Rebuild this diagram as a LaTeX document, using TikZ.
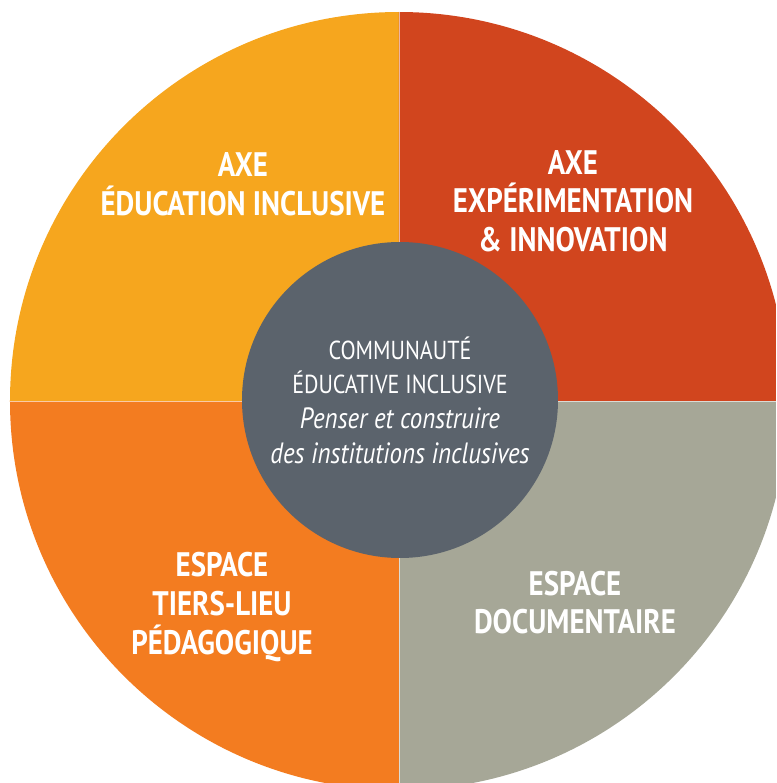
\documentclass[tikz,border=0pt]{standalone}
\usepackage{fontspec}
\setmainfont[FakeStretch=0.85]{PT Sans}
\usetikzlibrary{positioning}
\definecolor{axeEdu}{RGB}{246,166,30}
\definecolor{axeExp}{RGB}{209,69,30}
\definecolor{espTiers}{RGB}{243,124,32}
\definecolor{espDoc}{RGB}{166,167,151}
\definecolor{hubGrey}{RGB}{91,99,108}
\tikzset{
  title/.style={text=white, align=center, font=\fontsize{25.5}{29}\selectfont\bfseries},
  hub/.style={circle, fill=hubGrey, minimum size=316*0.75pt, inner sep=0pt},
  hubtext/.style={text=white, align=center, font=\fontsize{19.5}{26}\selectfont}
}
\newcommand{\hubital}[1]{{\fontsize{22}{26}\selectfont\itshape #1}}
\begin{document}
\begin{tikzpicture}[x=0.75pt,y=0.75pt]
   \useasboundingbox (-399,-382) rectangle (377,401);
   \clip (-399,-382) rectangle (377,401);
   \def\R{389}
   % the four quadrants
   \fill[axeEdu]   (0,0) -- (180:\R) arc (180:90:\R) -- cycle;
   \fill[axeExp]   (0,0) -- (90:\R) arc (90:0:\R) -- cycle;
   \fill[espDoc]   (0,0) -- (0:\R) arc (360:270:\R) -- cycle;
   \fill[espTiers] (0,0) -- (270:\R) arc (270:180:\R) -- cycle;
   \draw[white, line width=0.6pt, opacity=0.6] (0,-\R) -- (0,\R) (-\R,0) -- (\R,0);
   % labels
   \node[title] (edu)   at (-156,216.5) {AXE\\ÉDUCATION INCLUSIVE};
   \node[title] (exp)   at (174,200)    {AXE\\EXPÉRIMENTATION\\\& INNOVATION};
   \node[title] (tiers) at (-177,-206)  {ESPACE\\TIERS-LIEU\\PÉDAGOGIQUE};
   \node[title] (doc)   at (176,-201.5) {ESPACE\\DOCUMENTAIRE};
   % centre
   \node[hub] (comm) at (1,1) {};
   \node[hubtext] (commtext) at (comm) {COMMUNAUTÉ\\ÉDUCATIVE INCLUSIVE\\\hubital{Penser et construire}\\\hubital{des institutions inclusives}};
\end{tikzpicture}
\end{document}
